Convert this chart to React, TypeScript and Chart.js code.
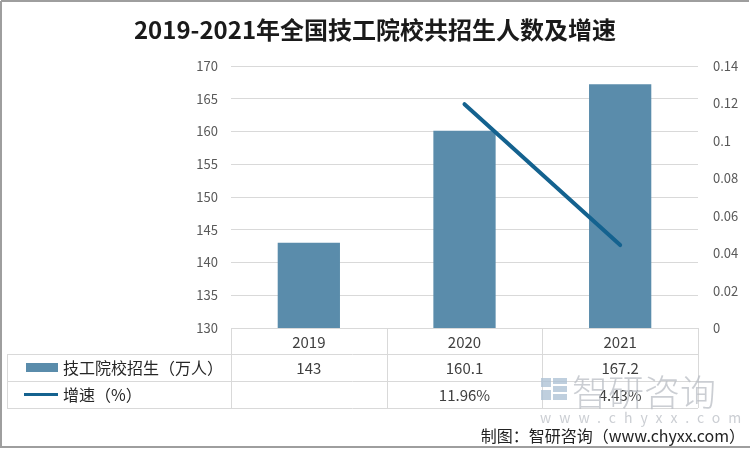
import React, { useEffect, useRef } from "react";
import { Chart, registerables } from "chart.js";

Chart.register(...registerables);

const titleText = "2019-2021年全国技工院校共招生人数及增速";
const categories = ["2019", "2020", "2021"];
const enrollment = [143, 160.1, 167.2];
const growthRate: (number | null)[] = [null, 0.1196, 0.0443];
const enrollmentLabel = "技工院校招生（万人）";
const growthLabel = "增速（%）";
const leftTicks = { min: 130, max: 170, step: 5 };
const rightTicks = { min: 0, max: 0.14, step: 0.02 };
const footerText = "制图：智研咨询（www.chyxx.com）";

const BAR_COLOR = "#5a8cab";
const LINE_COLOR = "#14628f";
const GRID = "#d9d9d9";
const CJK = '"Noto Sans CJK SC", "Noto Sans", sans-serif';

const tablePlugin = {
  id: "tablePlugin",
  afterDraw(chart: any) {
    const ctx = chart.ctx as CanvasRenderingContext2D;
    const area = chart.chartArea;
    const x = chart.scales.x;
    const W = chart.width;
    ctx.save();

    // title
    ctx.fillStyle = "#1a1a1a";
    ctx.font = `bold 24px ${CJK}`;
    ctx.textAlign = "center";
    ctx.textBaseline = "middle";
    ctx.fillText(titleText, W / 2, 30);

    // table geometry
    const colW = (area.right - area.left) / categories.length;
    const top = area.bottom;
    const r1 = top + 26;
    const r2 = r1 + 27;
    const bottom = r2 + 27;
    const tableLeft = 7;

    ctx.strokeStyle = GRID;
    ctx.lineWidth = 1;
    ctx.beginPath();
    ctx.moveTo(area.left, top + 0.5);
    ctx.lineTo(area.right, top + 0.5);
    [r1, r2, bottom].forEach((yy) => {
      ctx.moveTo(tableLeft, yy + 0.5);
      ctx.lineTo(area.right, yy + 0.5);
    });
    ctx.moveTo(tableLeft + 0.5, r1);
    ctx.lineTo(tableLeft + 0.5, bottom);
    for (let i = 0; i <= categories.length; i++) {
      const vx = Math.round(area.left + i * colW) + 0.5;
      ctx.moveTo(vx, top);
      ctx.lineTo(vx, bottom);
    }
    ctx.stroke();

    // header + values
    ctx.textAlign = "center";
    ctx.textBaseline = "middle";
    ctx.fillStyle = "#404040";
    ctx.font = `15px ${CJK}`;
    categories.forEach((c, i) => {
      const cx = x.getPixelForValue(i);
      ctx.fillText(c, cx, (top + r1) / 2 + 1);
      ctx.fillText(String(enrollment[i]), cx, (r1 + r2) / 2 + 1);
      const g = growthRate[i];
      if (g !== null && g !== undefined) {
        ctx.fillText((g * 100).toFixed(2) + "%", cx, (r2 + bottom) / 2 + 1);
      }
    });

    // legend cells
    ctx.fillStyle = BAR_COLOR;
    ctx.fillRect(26, r1 + 9, 32, 9);
    ctx.strokeStyle = LINE_COLOR;
    ctx.lineWidth = 3;
    ctx.beginPath();
    ctx.moveTo(24, (r2 + bottom) / 2);
    ctx.lineTo(58, (r2 + bottom) / 2);
    ctx.stroke();
    ctx.fillStyle = "#262626";
    ctx.font = `16px ${CJK}`;
    ctx.textAlign = "left";
    ctx.fillText(enrollmentLabel, 63, (r1 + r2) / 2);
    ctx.fillText(growthLabel, 63, (r2 + bottom) / 2);

    // watermark
    ctx.globalAlpha = 0.75;
    ctx.fillStyle = "#a9bfd3";
    ctx.fillRect(541, 378, 10, 9);
    ctx.fillRect(553, 378, 14, 6);
    ctx.fillRect(553, 386, 14, 6);
    ctx.fillRect(541, 390, 10, 10);
    ctx.fillRect(553, 394, 14, 6);
    ctx.fillStyle = "#b9bec4";
    ctx.font = `300 36px ${CJK}`;
    ctx.textAlign = "left";
    ctx.textBaseline = "middle";
    ctx.fillText("智研咨询", 572, 392);
    ctx.font = `14px ${CJK}`;
    (ctx as any).letterSpacing = "8px";
    ctx.fillText("www.chyxx.com", 540, 418);
    (ctx as any).letterSpacing = "0px";
    ctx.globalAlpha = 1;

    // footer
    ctx.fillStyle = "#222222";
    ctx.font = `16px ${CJK}`;
    ctx.textAlign = "right";
    ctx.fillText(footerText, 745, 436);

    // frame
    ctx.strokeStyle = "#9e9e9e";
    ctx.lineWidth = 2;
    ctx.beginPath();
    ctx.moveTo(1, 1);
    ctx.lineTo(W - 1, 1);
    ctx.moveTo(1, 1);
    ctx.lineTo(1, 447);
    ctx.moveTo(0, 447);
    ctx.lineTo(W, 447);
    ctx.stroke();
    ctx.restore();
  },
};

export default function App() {
  const ref = useRef<HTMLCanvasElement | null>(null);

  useEffect(() => {
    if (!ref.current) return;
    const chart = new Chart(ref.current, {
      type: "bar",
      data: {
        labels: categories,
        datasets: [
          {
            type: "line",
            label: growthLabel,
            data: growthRate,
            yAxisID: "y1",
            borderColor: LINE_COLOR,
            backgroundColor: LINE_COLOR,
            borderWidth: 4,
            pointRadius: 0,
            borderCapStyle: "round",
            tension: 0,
            order: 0,
          } as any,
          {
            type: "bar",
            label: enrollmentLabel,
            data: enrollment,
            yAxisID: "y",
            backgroundColor: BAR_COLOR,
            categoryPercentage: 0.8,
            barPercentage: 0.5,
            order: 1,
          },
        ],
      },
      options: {
        responsive: false,
        animation: false,
        devicePixelRatio: 1,
        layout: { padding: { top: 66, bottom: 122, left: 0, right: 0 } },
        plugins: {
          legend: { display: false },
          title: { display: false },
          tooltip: { enabled: false },
        },
        scales: {
          x: {
            display: false,
            offset: true,
            grid: { display: false },
          },
          y: {
            position: "left",
            min: leftTicks.min,
            max: leftTicks.max,
            border: { display: false },
            grid: { color: GRID, drawTicks: false },
            ticks: {
              stepSize: leftTicks.step,
              padding: 13,
              color: "#595959",
              font: { family: CJK, size: 13 },
            },
            afterFit: (s: any) => {
              s.width = 231;
            },
          },
          y1: {
            position: "right",
            min: rightTicks.min,
            max: rightTicks.max,
            border: { display: false },
            grid: { display: false, drawTicks: false },
            ticks: {
              stepSize: rightTicks.step,
              padding: 15,
              color: "#595959",
              font: { family: CJK, size: 13 },
              callback: (v: any) => String(Number(Number(v).toFixed(2))),
            },
            afterFit: (s: any) => {
              s.width = 52;
            },
          },
        },
      },
      plugins: [tablePlugin],
    });
    return () => chart.destroy();
  }, []);

  return (
    <div
      style={{
        position: "fixed",
        left: 0,
        top: 0,
        width: 750,
        height: 450,
        background: "#ffffff",
      }}
    >
      <canvas ref={ref} width={750} height={450} style={{ width: 750, height: 450, display: "block" }} />
    </div>
  );
}
